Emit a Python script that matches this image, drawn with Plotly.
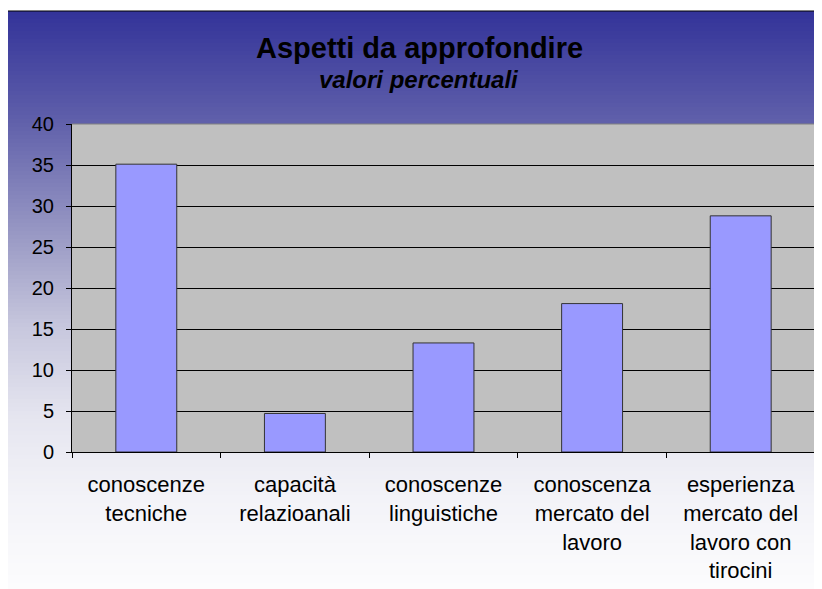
import plotly.graph_objects as go

# data
categories = [
    "conoscenze<br>tecniche",
    "capacità<br>relazioanali",
    "conoscenze<br>linguistiche",
    "conoscenza<br>mercato del<br>lavoro",
    "esperienza<br>mercato del<br>lavoro con<br>tirocini",
]
values = [35.1, 4.7, 13.3, 18.1, 28.8]
y_ticks = [0, 5, 10, 15, 20, 25, 30, 35, 40]

title_text = "Aspetti da approfondire"
subtitle_text = "valori percentuali"

# the page body adds an 8px margin, so the figure is laid out 8px smaller
OFF = 8
W, H = 822 - OFF, 589 - OFF
L, R, T, B = 72 - OFF, 7, 124 - OFF, 137
PW, PH = W - L - R, H - T - B
FONT = "Arial, Liberation Sans, sans-serif"


def px_x(x):
    # x given in screen pixels
    return (x - OFF - L) / PW


def px_y(y):
    # y given in screen pixels
    return (H - B - (y - OFF)) / PH


# background gradient of the chart box: dark blue at top to white at bottom
grad_stops = [
    (11, (51, 51, 153)),
    (120, (95, 95, 170)),
    (250, (160, 160, 200)),
    (330, (200, 200, 222)),
    (420, (230, 230, 240)),
    (500, (243, 243, 248)),
    (600, (253, 253, 254)),
]


def grad_color(y):
    for (y0, c0), (y1, c1) in zip(grad_stops, grad_stops[1:]):
        if y0 <= y <= y1:
            t = (y - y0) / (y1 - y0)
            c = [round(a + (b - a) * t) for a, b in zip(c0, c1)]
            return "rgb({},{},{})".format(*c)
    return "rgb(253,253,254)"


box_left, box_top = 6, 11
shapes = []
step = 4
y = box_top
while y < 600:
    shapes.append(dict(
        type="rect", xref="paper", yref="paper", layer="below",
        x0=px_x(box_left), x1=px_x(840),
        y0=px_y(y), y1=px_y(y + step + 1),
        fillcolor=grad_color(y + step / 2), line=dict(width=0),
    ))
    y += step

# grey plot area
shapes.append(dict(
    type="rect", xref="paper", yref="paper", layer="below",
    x0=0, x1=1, y0=0, y1=1, fillcolor="#C0C0C0", line=dict(width=0),
))
# plot area border (top and right, grey)
shapes.append(dict(type="line", xref="paper", yref="paper", layer="above",
                   x0=0, x1=1, y0=1, y1=1, line=dict(color="#808080", width=1)))
shapes.append(dict(type="line", xref="paper", yref="paper", layer="above",
                   x0=1, x1=1, y0=0, y1=1, line=dict(color="#808080", width=1)))
# chart box border
shapes.append(dict(
    type="rect", xref="paper", yref="paper", layer="above",
    x0=px_x(box_left), x1=px_x(850), y0=px_y(620), y1=px_y(box_top),
    fillcolor="rgba(0,0,0,0)", line=dict(color="black", width=1),
))

fig = go.Figure(go.Bar(
    x=categories,
    y=values,
    marker=dict(color="#9999FF", line=dict(color="#333333", width=1)),
    hoverinfo="x+y",
))

fig.update_layout(
    width=W,
    height=H,
    margin=dict(l=L, r=R, t=T, b=B, pad=0),
    paper_bgcolor="white",
    plot_bgcolor="rgba(0,0,0,0)",
    showlegend=False,
    bargap=0.59,
    font=dict(family=FONT, color="black"),
    shapes=shapes,
    annotations=[
        dict(text="<b>" + title_text + "</b>", xref="paper", yref="paper",
             x=px_x(419), y=px_y(48), xanchor="center", yanchor="middle",
             showarrow=False, font=dict(size=29, family=FONT, color="black")),
        dict(text="<b><i>" + subtitle_text + "</i></b>", xref="paper", yref="paper",
             x=px_x(419), y=px_y(79), xanchor="center", yanchor="middle",
             showarrow=False, font=dict(size=24, family=FONT, color="black")),
    ],
)

fig.update_xaxes(
    type="category",
    showline=True, linecolor="black", linewidth=1,
    ticks="outside", tickson="boundaries", ticklen=5, tickcolor="black",
    tickfont=dict(size=22, family=FONT, color="black"),
    ticklabelstandoff=13,
    showgrid=False,
    fixedrange=True,
)
fig.update_yaxes(
    range=[0, 40],
    tickvals=y_ticks,
    showline=True, linecolor="black", linewidth=1,
    ticks="outside", ticklen=5, tickcolor="black",
    tickfont=dict(size=20, family=FONT, color="black"),
    ticklabelstandoff=8,
    showgrid=True, gridcolor="black", gridwidth=1,
    zeroline=False,
    fixedrange=True,
)

fig.write_html("out.html")
